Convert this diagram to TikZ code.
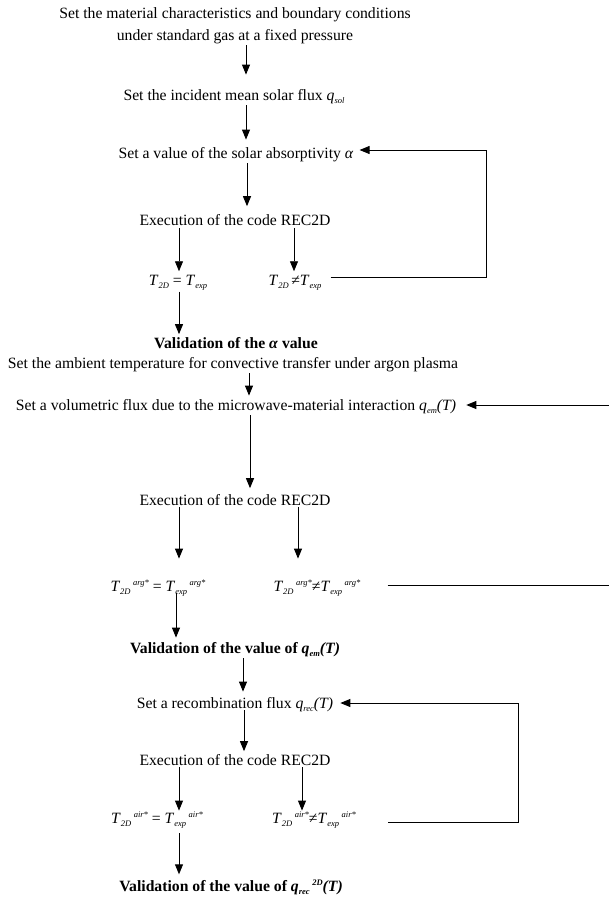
\documentclass[tikz,border=0pt]{standalone}
\usepackage{fontspec}
\setmainfont{Liberation Serif}
\usetikzlibrary{arrows.meta}
\newcommand\Ti{\textit{T}}
\newcommand\sbx[1]{\raisebox{-3pt}{\fontsize{8.5}{9}\selectfont\textit{#1}}}
\newcommand\spx[1]{\raisebox{6pt}{\fontsize{8.5}{9}\selectfont\textit{#1}}}
\begin{document}
\begin{tikzpicture}[x=1pt,y=-1pt,
  txt/.style={inner sep=1pt, align=center, font=\fontsize{15.7}{22}\selectfont},
  btxt/.style={inner sep=1pt, align=center, font=\fontsize{15.7}{22}\selectfont\bfseries},
  arr/.style={-{Triangle[length=10pt,width=8pt]}, line width=0.9pt},
  ln/.style={line width=0.9pt}]
\useasboundingbox (0,0) rectangle (609,900);
% part 1
\node[txt] (n1) at (235,26) {Set the material characteristics and boundary conditions\\under standard gas at a fixed pressure};
\node[txt] (n2) at (234,97) {Set the incident mean solar flux \textit{q}\sbx{sol}};
\node[txt] (n3) at (236,155) {Set a value of the solar absorptivity \textit{α}};
\node[txt] (n4) at (235,220) {Execution of the code REC2D};
\node[txt] (n5) at (178,283) {\Ti\sbx{2D} = \Ti\sbx{exp}};
\node[txt] (n6) at (295,283) {\Ti\sbx{2D}\,≠\Ti\sbx{exp}};
\node[btxt] (n7) at (236,343) {Validation of the \textit{α} value};
% part 2
\node[txt] (n8) at (233,365) {Set the ambient temperature for convective transfer under argon plasma};
\node[txt] (n9) at (236,407) {Set a volumetric flux due to the microwave-material interaction \textit{q}\sbx{em}\textit{(T)}};
\node[txt] (n10) at (235,500) {Execution of the code REC2D};
\node[txt] (n11) at (158,588) {\Ti\sbx{2D}\,\spx{arg*} = \Ti\sbx{exp}\,\spx{arg*}};
\node[txt] (n12) at (317,588) {\Ti\sbx{2D}\,\spx{arg*}≠\Ti\sbx{exp}\,\spx{arg*}};
\node[btxt] (n13) at (235,650) {Validation of the value of \textit{q}\sbx{\bfseries em}\textit{(T)}};
% part 3
\node[txt] (n14) at (235,705) {Set a recombination flux \textit{q}\sbx{rec}\textit{(T)}};
\node[txt] (n15) at (235,760) {Execution of the code REC2D};
\node[txt] (n16) at (157,820) {\Ti\sbx{2D}\,\spx{air*} = \Ti\sbx{exp}\,\spx{air*}};
\node[txt] (n17) at (314,820) {\Ti\sbx{2D}\,\spx{air*}≠\Ti\sbx{exp}\,\spx{air*}};
\node[btxt] (n18) at (231,887) {Validation of the value of \textit{q}\sbx{\bfseries rec}\,\spx{\bfseries 2D}\textit{(T)}};
% loop corners
\coordinate (c1) at (486,150);
\coordinate (c2) at (609,405);
\coordinate (c3) at (609,585);
\coordinate (c4) at (518,703);
% arrows part 1
\draw[arr, shorten >=14pt] (n1.south -| 246,0) -- (n2.north -| 246,0);
\draw[arr, shorten >=7pt] (n2.south -| 246,0) -- (n3.north -| 246,0);
\draw[arr, shorten >=7pt] (n3.south -| 247,0) -- (n4.north -| 247,0);
\draw[arr, shorten <=1pt, shorten >=3pt] (n4.south -| 179,0) -- (n5.north -| 179,0);
\draw[arr, shorten <=1pt, shorten >=3pt] (n4.south -| 294,0) -- (n6.north -| 294,0);
\draw[arr, shorten >=2pt] (n5.south -| 179,0) -- (n7.north -| 179,0);
\draw[arr, shorten >=5pt] ([shift={(8,-6)}]n6.east) -| (c1) -- (c1 -| n3.east);
% arrows part 2
\draw[arr, shorten >=3pt] (n8.south -| 249,0) -- (n9.north -| 249,0);
\draw[arr, shorten >=9pt] (c2) -- (c2 -| n9.east);
\draw[arr, shorten >=5pt] (n9.south -| 250,0) -- (n10.north -| 250,0);
\draw[arr, shorten >=20pt] (n10.south -| 179,0) -- (n11.north -| 179,0);
\draw[arr, shorten >=20pt] (n10.south -| 298,0) -- (n12.north -| 298,0);
\draw[ln] ([shift={(26,-3)}]n12.east) -- (c3);
\draw[arr, shorten <=-4pt, shorten >=4pt] (n11.south -| 176,0) -- (n13.north -| 176,0);
% arrows part 3
\draw[arr, shorten >=5pt] (n13.south -| 243,0) -- (n14.north -| 243,0);
\draw[arr, shorten <=-3pt, shorten >=2pt] (n14.south -| 244,0) -- (n15.north -| 244,0);
\draw[arr] (n15.south -| 179,0) -- (n16.north -| 179,0);
\draw[arr] (n15.south -| 302,0) -- (n17.north -| 302,0);
\draw[arr, shorten >=6pt] ([shift={(31,2)}]n17.east) -| (c4) -- (c4 -| n14.east);
\draw[arr, shorten <=4pt, shorten >=4pt] (n16.south -| 179,0) -- (n18.north -| 179,0);
\end{tikzpicture}
\end{document}
